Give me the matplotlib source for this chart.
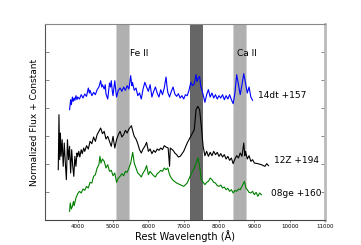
import matplotlib
matplotlib.use("Agg")
import matplotlib.pyplot as plt

# ---- data (y in "tick units", via pixel-row readings) ----
def conv(ys):
    return [(661 - v) / 84.0 for v in ys]

wl_14dt = [3770, 3800, 3820, 3850, 3870, 3900, 3920, 3950, 3980, 4000, 4050, 4100, 4150, 4200,
           4250, 4300, 4330, 4350, 4400, 4450, 4500, 4550, 4600, 4650, 4680, 4700, 4750, 4780,
           4800, 4850, 4880, 4900, 4930, 4950, 4980, 5000, 5030, 5050, 5080, 5100, 5150, 5200,
           5250, 5300, 5350, 5400, 5450, 5500, 5530, 5550, 5600, 5650, 5700, 5750, 5800, 5850,
           5900, 5950, 6000, 6050, 6100, 6150, 6200, 6250, 6300, 6350, 6400, 6450, 6500, 6530,
           6550, 6600, 6650, 6700, 6750, 6800, 6850, 6900, 6950, 7000, 7050, 7100, 7150, 7200,
           7250, 7300, 7350, 7380, 7400, 7450, 7480, 7500, 7550, 7600, 7650, 7700, 7750, 7800,
           7850, 7900, 7950, 8000, 8050, 8100, 8150, 8200, 8250, 8300, 8350, 8400, 8450, 8500,
           8550, 8600, 8650, 8700, 8750, 8800, 8850, 8900, 8950]
px_14dt = [330, 300, 315, 292, 305, 295, 302, 288, 300, 292, 298, 285, 295, 283,
           290, 265, 280, 272, 288, 278, 285, 270, 262, 243, 262, 255, 268, 255,
           282, 298, 270, 250, 262, 243, 275, 288, 260, 243, 275, 292, 272, 265,
           275, 262, 272, 258, 268, 228, 258, 248, 272, 265, 288, 280, 298, 268,
           248, 262, 275, 255, 292, 275, 262, 280, 292, 270, 285, 265, 232, 262,
           278, 292, 275, 262, 283, 290, 282, 295, 288, 298, 285, 288, 272, 248,
           258, 252, 225, 245, 238, 230, 258, 265, 285, 308, 285, 270, 292, 280,
           295, 285, 298, 288, 295, 285, 300, 288, 298, 285, 300, 312, 280, 225,
           255, 285, 255, 222, 250, 280, 262, 292, 302]
flux_14dt = conv(px_14dt)

wl_12Z = [3450, 3470, 3490, 3510, 3530, 3560, 3590, 3620, 3650, 3680, 3710, 3740, 3770, 3800,
          3830, 3860, 3890, 3920, 3950, 3980, 4000, 4030, 4060, 4100, 4130, 4170, 4200, 4250,
          4300, 4350, 4400, 4450, 4500, 4550, 4600, 4650, 4700, 4750, 4800, 4850, 4900, 4950,
          5000, 5050, 5100, 5150, 5200, 5250, 5300, 5350, 5400, 5450, 5520, 5560, 5600, 5650,
          5700, 5750, 5800, 5850, 5900, 5950, 6000, 6050, 6100, 6150, 6200, 6250, 6300, 6350,
          6400, 6450, 6500, 6560, 6600, 6620, 6700, 6750, 6800, 6850, 6900, 7000, 7100, 7200,
          7300, 7350, 7400, 7450, 7500, 7550, 7600, 7650, 7700, 7750, 7800, 7850, 7900, 7950,
          8000, 8050, 8100, 8150, 8200, 8250, 8300, 8350, 8400, 8450, 8500, 8550, 8600, 8650,
          8700, 8730, 8750, 8800, 8850, 8900, 8950, 9000, 9100, 9200, 9300, 9350, 9400]
px_12Z = [510, 345, 480, 400, 470, 420, 500, 430, 490, 540, 420, 480, 440, 520,
          450, 500, 530, 470, 500, 460, 470, 455, 472, 450, 462, 445, 455, 438,
          448, 425, 432, 412, 425, 405, 395, 385, 402, 395, 418, 410, 425, 440,
          410, 445, 420, 405, 395, 412, 405, 392, 400, 388, 378, 395, 410, 418,
          432, 450, 460, 448, 440, 428, 455, 448, 462, 452, 458, 448, 452, 445,
          450, 438, 442, 445, 500, 445, 452, 460, 465, 472, 470, 455, 430, 410,
          390, 330, 320, 330, 380, 440, 468, 455, 470, 458, 468, 455, 465, 458,
          470, 462, 472, 465, 478, 470, 482, 475, 492, 478, 468, 475, 460, 470,
          430, 468, 455, 478, 468, 485, 480, 490, 492, 495, 500, 492, 498]
flux_12Z = conv(px_12Z)

wl_08ge = [3770, 3790, 3820, 3850, 3880, 3900, 3950, 4000, 4050, 4100, 4150, 4200, 4250, 4300,
           4350, 4400, 4450, 4500, 4550, 4600, 4630, 4660, 4700, 4750, 4800, 4850, 4900, 4950,
           5000, 5050, 5100, 5150, 5200, 5250, 5300, 5350, 5400, 5450, 5500, 5557, 5600, 5650,
           5700, 5750, 5800, 5850, 5900, 5950, 6000, 6050, 6100, 6150, 6200, 6250, 6300, 6350,
           6400, 6450, 6500, 6550, 6600, 6650, 6700, 6800, 6900, 7000, 7100, 7200, 7300, 7405,
           7450, 7500, 7600, 7650, 7700, 7750, 7800, 7850, 7900, 7950, 8000, 8050, 8100, 8150,
           8200, 8250, 8300, 8350, 8400, 8450, 8500, 8550, 8600, 8650, 8720, 8760, 8800, 8850,
           8900, 8950, 9000, 9050, 9100, 9150, 9200]
px_08ge = [635, 610, 628, 620, 605, 618, 595, 582, 575, 580, 568, 572, 560, 565,
           548, 550, 530, 525, 505, 495, 470, 490, 478, 485, 505, 495, 515, 512,
           528, 520, 548, 535, 530, 522, 528, 515, 518, 505, 490, 458, 490, 505,
           520, 525, 532, 520, 512, 498, 525, 515, 522, 528, 532, 522, 518, 512,
           515, 505, 510, 505, 525, 535, 542, 550, 555, 560, 550, 525, 505, 475,
           500, 540, 555, 548, 545, 535, 540, 548, 550, 558, 560, 556, 565, 562,
           570, 566, 575, 570, 580, 572, 575, 568, 570, 560, 545, 565, 570, 578,
           580, 575, 585, 578, 590, 580, 585]
flux_08ge = conv(px_08ge)

names = ["14dt +157", "12Z +194", "08ge +160"]
colors = ["#0000ff", "#000000", "#008000"]
label_pos = [(9100, 4.45), (9550, 2.13), (9480, 0.95)]

bands_light = [(5120, 5445), (8420, 8765)]
band_dark = (7180, 7545)
line_labels = [("Fe II", 5750, 5.95), ("Ca II", 8800, 5.95)]

# ---- figure ----
fig = plt.figure(figsize=(3.61, 2.45), dpi=100)
ax = fig.add_axes([0.1247, 0.102, 0.7756, 0.800])

for (a, b) in bands_light:
    ax.axvspan(a - 25, b + 25, color="#d4d4d4", lw=0, zorder=1)
    ax.axvspan(a, b, color="#b0b0b0", lw=0, zorder=1)
ax.axvspan(band_dark[0], band_dark[1] + 15, color="#8a8a8a", lw=0, zorder=1)
ax.axvspan(band_dark[0], band_dark[1], color="#666666", lw=0, zorder=1)

for wl, fl, c in zip([wl_14dt, wl_12Z, wl_08ge], [flux_14dt, flux_12Z, flux_08ge], colors):
    ax.plot(wl, fl, color=c, lw=0.8, zorder=3)

for n, (x, y) in zip(names, label_pos):
    ax.text(x, y, n, fontsize=6.5, va="center", ha="left")
for t, x, y in line_labels:
    ax.text(x, y, t, fontsize=6.5, va="center", ha="center")

ax.set_xlim(3075, 11000)
ax.set_ylim(0, 7)
ax.set_xticks(range(4000, 11001, 1000))
ax.set_xticklabels([str(v) for v in range(4000, 11001, 1000)], fontsize=4)
ax.set_yticks(range(0, 8))
ax.set_yticklabels([])
ax.tick_params(axis="y", direction="in", length=3, width=0.5, right=True, left=True, color="#555555")
ax.tick_params(axis="x", direction="out", length=1.5, width=0.5, pad=1.5, color="#555555")

ax.spines["left"].set_color("#555555")
ax.spines["bottom"].set_color("#444444")
ax.spines["top"].set_color("#888888")
ax.spines["right"].set_color("#bbbbbb")
ax.spines["right"].set_linewidth(2)
for s in ["left", "bottom", "top"]:
    ax.spines[s].set_linewidth(0.8)

ax.set_xlabel("Rest Wavelength (Å)", fontsize=7, labelpad=0.5)
ax.set_ylabel("Normalized Flux + Constant", fontsize=6.5, labelpad=0.5)

fig.savefig("out.png", dpi=100)
